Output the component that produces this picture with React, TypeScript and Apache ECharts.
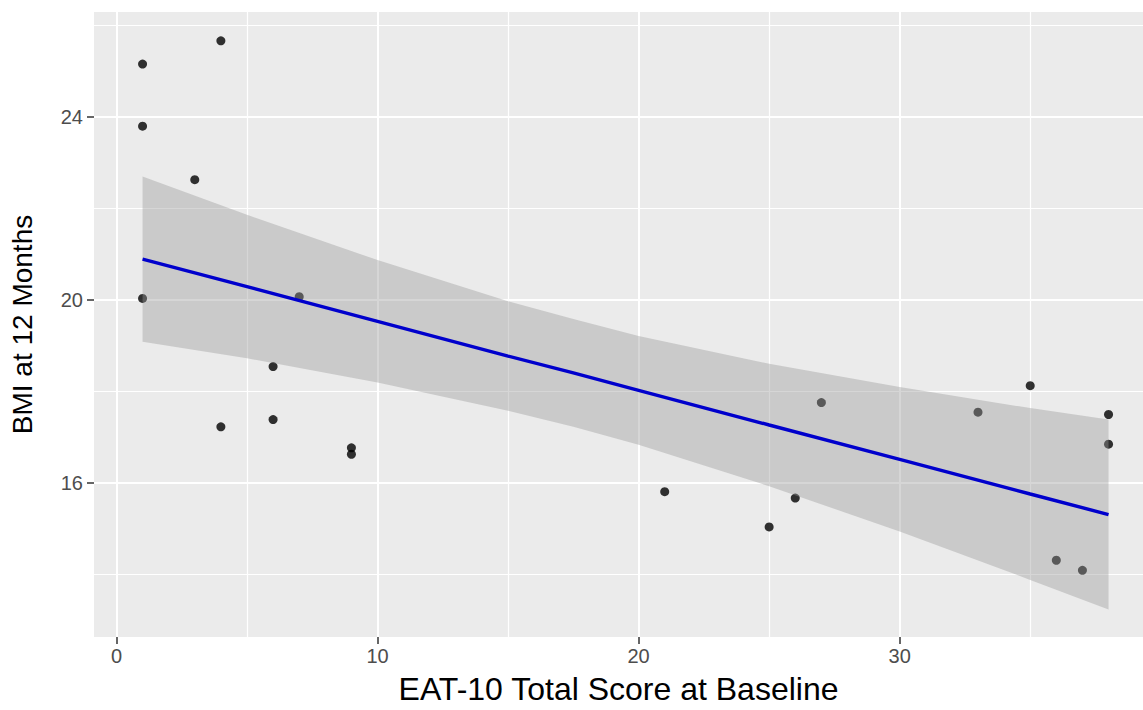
import React, { useEffect, useRef } from "react";
import * as echarts from "echarts";

// Observed points: EAT-10 total score (x) vs BMI at 12 months (y)
const scoreX = [1, 1, 1, 4, 3, 4, 6, 6, 7, 9, 9, 21, 25, 26, 27, 33, 35, 36, 37, 38, 38];
const bmiY = [25.16, 23.8, 20.03, 25.67, 22.63, 17.22, 18.54, 17.38, 20.07, 16.76, 16.62, 15.8, 15.03, 15.66, 17.75, 17.54, 18.12, 14.3, 14.08, 17.49, 16.84];

// Fitted line and confidence ribbon
const bandX = [1, 5, 10, 15, 17.5, 20, 25, 30, 35, 38];
const fitY = [20.89, 20.29, 19.53, 18.77, 18.4, 18.02, 17.26, 16.51, 15.75, 15.3];
const bandLo = [19.08, 18.72, 18.19, 17.57, 17.22, 16.83, 15.92, 14.93, 13.87, 13.22];
const bandHi = [22.7, 21.86, 20.87, 19.97, 19.58, 19.21, 18.6, 18.09, 17.63, 17.38];

// Tick / grid values
const xMajor = [0, 10, 20, 30];
const xMinor = [5, 15, 25, 35];
const yMajor = [16, 20, 24];
const yMinor = [14, 18, 22, 26];

const xTitle = "EAT-10 Total Score at Baseline";
const yTitle = "BMI at 12 Months";

const FONT = "'Liberation Sans', Arial, sans-serif";

export default function App() {
  const ref = useRef<HTMLDivElement>(null);

  useEffect(() => {
    if (!ref.current) return;
    const chart = echarts.init(ref.current, undefined, { renderer: "svg" });
    const xMin = -0.86;
    const xMax = 39.32;
    const yMin = 12.62;
    const yMax = 26.3;

    const points = scoreX.map((x, i) => [x, bmiY[i]]);
    const fit = bandX.map((x, i) => [x, fitY[i]]);

    const option: any = {
      animation: false,
      textStyle: { fontFamily: FONT },
      grid: {
        left: 93,
        right: 0,
        top: 12,
        bottom: 71,
        show: true,
        backgroundColor: "#EBEBEB",
        borderWidth: 0,
      },
      xAxis: [
        {
          type: "value",
          min: xMin,
          max: xMax,
          position: "bottom",
          axisLine: { show: false, onZero: false },
          axisTick: {
            show: true,
            customValues: xMajor,
            length: 7,
            lineStyle: { color: "#333333", width: 1.5 },
          },
          axisLabel: {
            customValues: xMajor,
            color: "#4D4D4D",
            fontSize: 20,
            margin: 9,
            fontFamily: FONT,
          },
          splitLine: { show: true, lineStyle: { color: "#FFFFFF", width: 2 } },
          name: xTitle,
          nameLocation: "middle",
          nameGap: 36,
          nameTextStyle: { color: "#000000", fontSize: 32, fontFamily: FONT },
        },
        {
          type: "value",
          min: xMin,
          max: xMax,
          position: "top",
          axisLine: { show: false, onZero: false },
          axisTick: { show: false, customValues: xMinor },
          axisLabel: { show: false, customValues: xMinor },
          splitLine: { show: true, lineStyle: { color: "#FFFFFF", width: 1.2 } },
        },
      ],
      yAxis: [
        {
          type: "value",
          min: yMin,
          max: yMax,
          position: "left",
          axisLine: { show: false, onZero: false },
          axisTick: {
            show: true,
            customValues: yMajor,
            length: 7,
            lineStyle: { color: "#333333", width: 1.5 },
          },
          axisLabel: {
            customValues: yMajor,
            color: "#4D4D4D",
            fontSize: 20,
            margin: 11,
            fontFamily: FONT,
          },
          splitLine: { show: true, lineStyle: { color: "#FFFFFF", width: 2 } },
          name: yTitle,
          nameLocation: "middle",
          nameGap: 58,
          nameRotate: 90,
          nameTextStyle: { color: "#000000", fontSize: 28, fontFamily: FONT },
        },
        {
          type: "value",
          min: yMin,
          max: yMax,
          position: "right",
          axisLine: { show: false, onZero: false },
          axisTick: { show: false, customValues: yMinor },
          axisLabel: { show: false, customValues: yMinor },
          splitLine: { show: true, lineStyle: { color: "#FFFFFF", width: 1.2 } },
        },
      ],
      series: [
        {
          type: "scatter",
          xAxisIndex: 0,
          yAxisIndex: 0,
          data: points,
          symbol: "circle",
          symbolSize: 9,
          itemStyle: { color: "#000000" },
          silent: true,
          z: 2,
        },
        {
          type: "custom",
          xAxisIndex: 0,
          yAxisIndex: 0,
          data: [[bandX[0], bandLo[0]]],
          silent: true,
          clip: true,
          z: 3,
          renderItem: (params: any, api: any) => {
            const pts: number[][] = [];
            for (let i = 0; i < bandX.length; i++) pts.push(api.coord([bandX[i], bandHi[i]]));
            for (let i = bandX.length - 1; i >= 0; i--) pts.push(api.coord([bandX[i], bandLo[i]]));
            return {
              type: "polygon",
              shape: { points: pts },
              style: { fill: "rgba(153,153,153,0.4)", stroke: "none" },
            };
          },
        },
        {
          type: "line",
          xAxisIndex: 0,
          yAxisIndex: 0,
          data: fit,
          showSymbol: false,
          symbol: "none",
          lineStyle: { color: "#0000CC", width: 3.4 },
          silent: true,
          z: 4,
        },
      ],
    };
    chart.setOption(option);
    return () => chart.dispose();
  }, []);

  return (
    <div
      ref={ref}
      style={{ position: "absolute", left: 0, top: 0, width: 1143, height: 710, background: "#FFFFFF" }}
    />
  );
}
